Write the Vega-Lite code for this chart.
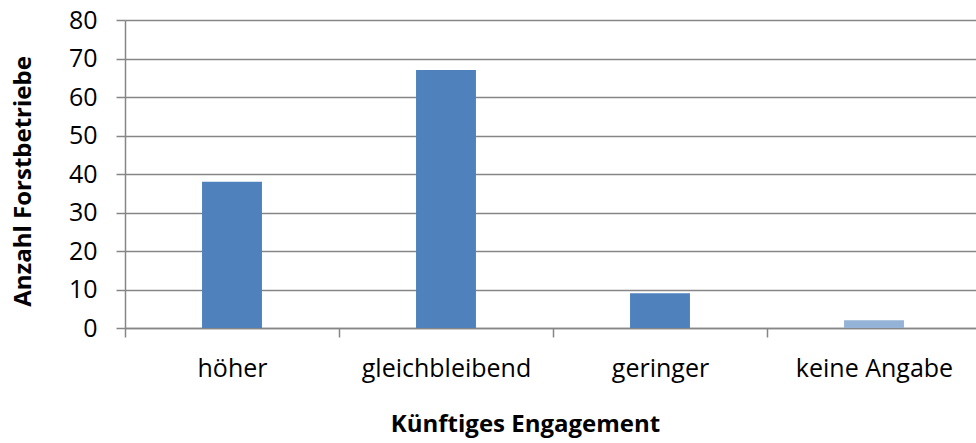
{
  "$schema": "https://vega.github.io/schema/vega-lite/v6.json",
  "autosize": {"type": "none"},
  "padding": {"left": 125, "top": 20, "right": 0, "bottom": 115},
  "width": 856,
  "height": 308,
  "background": "white",
  "data": {
    "values": [
      {"Engagement": "höher", "Anzahl": 38, "Gruppe": "a"},
      {"Engagement": "gleichbleibend", "Anzahl": 67, "Gruppe": "a"},
      {"Engagement": "geringer", "Anzahl": 9, "Gruppe": "a"},
      {"Engagement": "keine Angabe", "Anzahl": 2, "Gruppe": "b"}
    ]
  },
  "mark": {"type": "bar", "width": {"band": 0.28}},
  "encoding": {
    "x": {
      "field": "Engagement",
      "type": "nominal",
      "sort": null,
      "scale": {"paddingInner": 0, "paddingOuter": 0},
      "axis": {
        "title": "Künftiges Engagement",
        "titleFont": "Open Sans",
        "titleFontSize": 24,
        "titleFontWeight": "bold",
        "titleColor": "black",
        "titleX": 400,
        "titleY": 96,
        "titleBaseline": "middle",
        "labelAngle": 0,
        "labelFont": "Open Sans",
        "labelFontSize": 25,
        "labelColor": "black",
        "labelPadding": 19,
        "tickBand": "extent",
        "tickSize": 9,
        "tickColor": "#868686",
        "domainColor": "#868686",
        "domainWidth": 1.5,
        "tickWidth": 1.5
      }
    },
    "y": {
      "field": "Anzahl",
      "type": "quantitative",
      "scale": {"domain": [0, 80]},
      "axis": {
        "title": "Anzahl Forstbetriebe",
        "titleFont": "Open Sans",
        "titleFontSize": 24,
        "titleFontWeight": "bold",
        "titleColor": "black",
        "titleX": -102,
        "titleY": 161,
        "titleAngle": -90,
        "titleBaseline": "middle",
        "values": [0, 10, 20, 30, 40, 50, 60, 70, 80],
        "labelFont": "Open Sans",
        "labelFontSize": 25,
        "labelColor": "black",
        "labelPadding": 19,
        "tickSize": 9,
        "tickColor": "#868686",
        "tickWidth": 1.5,
        "domainColor": "#868686",
        "domainWidth": 1.5,
        "grid": true,
        "gridColor": "#868686",
        "gridWidth": 1.5
      }
    },
    "color": {
      "field": "Gruppe",
      "type": "nominal",
      "scale": {"domain": ["a", "b"], "range": ["#4F81BD", "#95B3D7"]},
      "legend": null
    }
  },
  "config": {"view": {"stroke": null}}
}
